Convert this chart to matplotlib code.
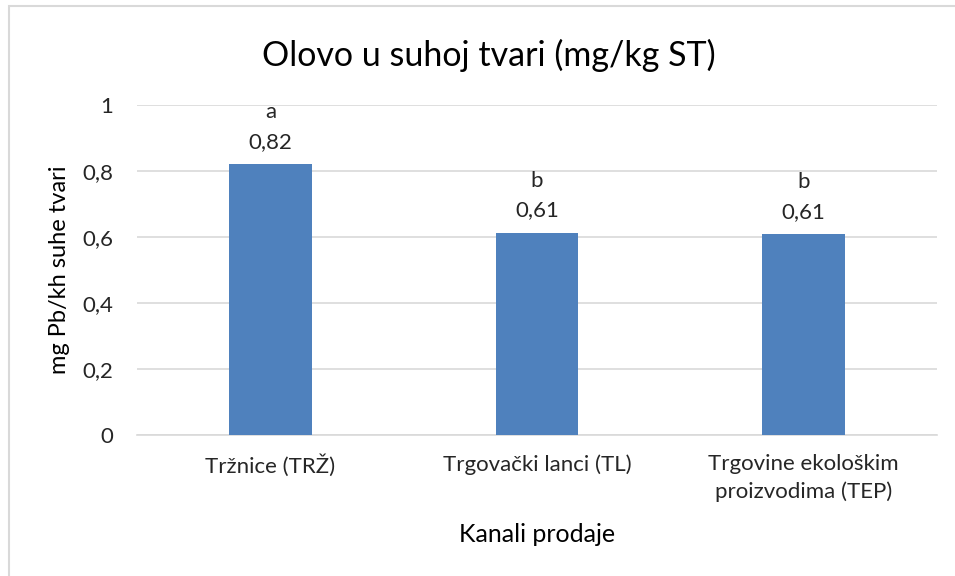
import matplotlib.pyplot as plt
from matplotlib.patches import Rectangle

plt.rcParams['font.family'] = ['Lato', 'DejaVu Sans']

categories = ['Tržnice (TRŽ)', 'Trgovački lanci (TL)', 'Trgovine ekološkim\nproizvodima (TEP)']
values = [0.82, 0.613, 0.608]
letters = ['a', 'b', 'b']
yticks = [0, 0.2, 0.4, 0.6, 0.8, 1.0]

fig = plt.figure(figsize=(9.55, 5.76), dpi=100)
ax = fig.add_axes([137/955, 1 - 435/576, 800/955, 330/576])

# chart frame (only left/top visible, the rest is cut off)
fig.patches.append(Rectangle((9/955, -0.1), 1.2, 1 - 6/576 + 0.1, transform=fig.transFigure,
                             fill=False, edgecolor='#d9d9d9', linewidth=1.5))

x = range(len(categories))
ax.bar(x, values, width=0.31, color='#4f81bd', zorder=3)
ax.set_xlim(-0.5, len(categories) - 0.5)
ax.set_ylim(0, 1)
ax.set_yticks(yticks)
ax.set_yticklabels([f'{v:g}'.replace('.', ',') for v in yticks])
ax.set_xticks(list(x))
ax.set_xticklabels(categories, fontsize=16, color='#262626', linespacing=1.4)
ax.tick_params(axis='y', labelsize=16, colors='#262626', length=0, pad=17)
ax.tick_params(axis='x', length=0, pad=14)
ax.grid(axis='y', color='#d9d9d9', linewidth=1.2, zorder=0)
for s in ['top', 'right', 'left']:
    ax.spines[s].set_visible(False)
ax.spines['bottom'].set_color('#d9d9d9')
ax.spines['bottom'].set_linewidth(1.2)

for i, (v, l) in enumerate(zip(values, letters)):
    ax.text(i, v + 0.038, f'{l}\n{v:.2f}'.replace('.', ','), ha='center', va='bottom',
            fontsize=16, color='#262626', linespacing=1.6)

ax.set_title('Olovo u suhoj tvari (mg/kg ST)', fontsize=24.5, color='#000000',
             pad=28, x=0.44)
ax.set_ylabel('mg Pb/kh suhe tvari', fontsize=17, color='#000000', labelpad=9)
ax.set_xlabel('Kanali prodaje', fontsize=18, color='#000000', labelpad=15)

fig.savefig('out.png', dpi=100)
